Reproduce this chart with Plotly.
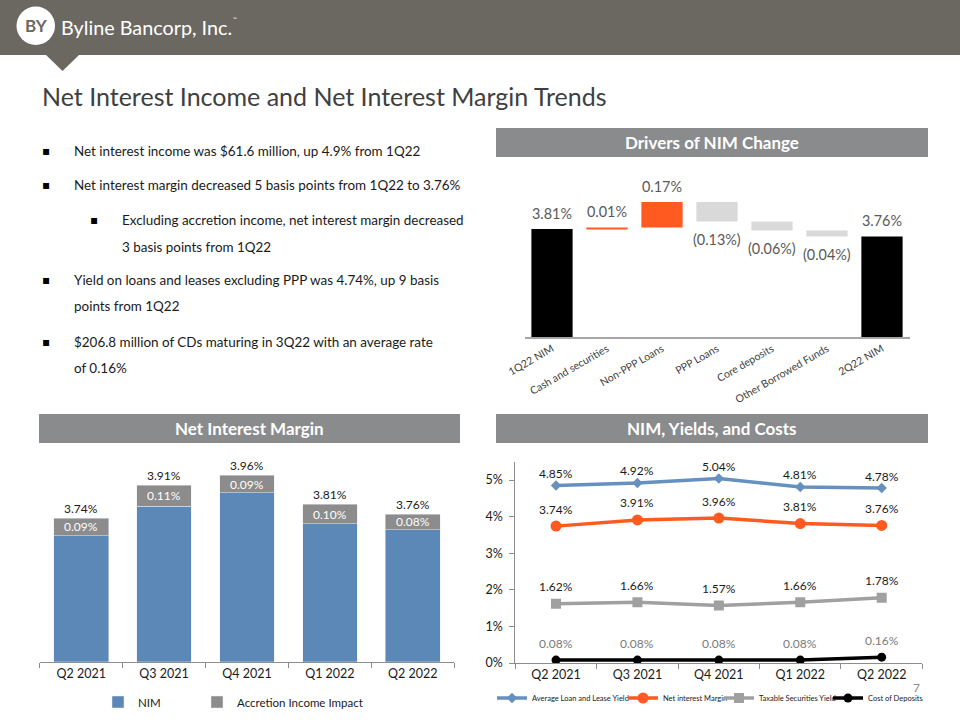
import plotly.graph_objects as go

W, H = 960, 720

# ---------------- data ----------------
wf_categories = ["1Q22 NIM", "Cash and securities", "Non-PPP Loans", "PPP Loans",
                 "Core deposits", "Other Borrowed Funds", "2Q22 NIM"]
wf_values = [3.81, 0.01, 0.17, -0.13, -0.06, -0.04, 3.76]
wf_measures = ["absolute", "relative", "relative", "relative", "relative", "relative", "total"]
wf_labels = ["3.81%", "0.01%", "0.17%", "(0.13%)", "(0.06%)", "(0.04%)", "3.76%"]

quarters = ["Q2 2021", "Q3 2021", "Q4 2021", "Q1 2022", "Q2 2022"]
nim_total = [3.74, 3.91, 3.96, 3.81, 3.76]
accretion = [0.09, 0.11, 0.09, 0.10, 0.08]
nim_ex_accretion = [round(t - a, 2) for t, a in zip(nim_total, accretion)]

loan_yield = [4.85, 4.92, 5.04, 4.81, 4.78]
net_interest_margin = [3.74, 3.91, 3.96, 3.81, 3.76]
securities_yield = [1.62, 1.66, 1.57, 1.66, 1.78]
cost_of_deposits = [0.08, 0.08, 0.08, 0.08, 0.16]

pct_tick_values = [0, 1, 2, 3, 4, 5]
pct_tick_labels = ["0%", "1%", "2%", "3%", "4%", "5%"]

bullets = [
    (0, "Net interest income was $61.6 million, up 4.9% from 1Q22", 151),
    (0, "Net interest margin decreased 5 basis points from 1Q22 to 3.76%", 185),
    (1, "Excluding accretion income, net interest margin decreased", 220),
    (2, "3 basis points from 1Q22", 246.5),
    (0, "Yield on loans and leases excluding PPP was 4.74%, up 9 basis", 280),
    (3, "points from 1Q22", 306.5),
    (0, "$206.8 million of CDs maturing in 3Q22 with an average rate", 341.5),
    (3, "of 0.16%", 368),
]

# ---------------- style ----------------
FONT = "Lato"
ORANGE = "#ff5a1f"
BLUE_BAR = "#5b88b6"
BLUE_LINE = "#6690bf"
GRAY_BAR = "#8c8c8c"
GRAY_LINE = "#a0a0a0"
HEADER = "#6b6862"
SECTION = "#8a8b8d"
AXIS = "#8c8c8c"


def px(x):
    return x / W


def py(y):
    return 1 - y / H


fig = go.Figure()

# ---------- waterfall ----------
fig.add_trace(go.Waterfall(
    x=wf_categories, y=wf_values, measure=wf_measures,
    xaxis="x", yaxis="y",
    increasing=dict(marker=dict(color=ORANGE)),
    decreasing=dict(marker=dict(color="#d9d9d9")),
    totals=dict(marker=dict(color="#000000")),
    connector=dict(visible=False),
    showlegend=False, hoverinfo="skip",
))

annotations = []
running = 0.0
for cat, v, m, lab in zip(wf_categories, wf_values, wf_measures, wf_labels):
    if m == "absolute":
        running = v
    elif m == "relative":
        running = running + v
    neg = (m == "relative" and v < 0)
    annotations.append(dict(x=cat, y=running, xref="x", yref="y", text=lab, showarrow=False,
                            yshift=-18.5 if neg else 15.5, yanchor="middle",
                            font=dict(family=FONT, size=14.4, color="#595959")))

# ---------- stacked bars ----------
fig.add_trace(go.Bar(x=quarters, y=nim_ex_accretion, name="NIM", marker_color=BLUE_BAR,
                     xaxis="x2", yaxis="y2", legend="legend", hoverinfo="skip"))
fig.add_trace(go.Bar(x=quarters, y=accretion, name="Accretion Income Impact", marker_color=GRAY_BAR,
                     xaxis="x2", yaxis="y2", legend="legend2", hoverinfo="skip"))
for q, t, a, n in zip(quarters, nim_total, accretion, nim_ex_accretion):
    annotations.append(dict(x=q, y=t, xref="x2", yref="y2", text=f"{t:.2f}%", showarrow=False,
                            yshift=10, yanchor="middle",
                            font=dict(family=FONT, size=12, color="#1a1a1a")))
    annotations.append(dict(x=q, y=n + a / 2, xref="x2", yref="y2", text=f"{a:.2f}%", showarrow=False,
                            yanchor="middle",
                            font=dict(family=FONT, size=12, color="#ffffff")))

# ---------- lines ----------
line_series = [
    ("Average Loan and Lease Yield", loan_yield, BLUE_LINE, "diamond", 8, 12, "#1a1a1a", "legend3"),
    ("Net interest Margin", net_interest_margin, ORANGE, "circle", 11, 17, "#1a1a1a", "legend4"),
    ("Taxable Securities Yield", securities_yield, GRAY_LINE, "square", 10, 17, "#1a1a1a", "legend5"),
    ("Cost of Deposits", cost_of_deposits, "#000000", "circle", 9, 17, "#7a7a7a", "legend6"),
]
for name, vals, color, sym, msize, shift, tcolor, leg in line_series:
    fig.add_trace(go.Scatter(x=quarters, y=vals, name=name, mode="lines+markers",
                             line=dict(color=color, width=3.5),
                             marker=dict(symbol=sym, size=msize, color=color),
                             xaxis="x3", yaxis="y3", legend=leg, hoverinfo="skip"))
    for q, v in zip(quarters, vals):
        annotations.append(dict(x=q, y=v, xref="x3", yref="y3", text=f"{v:.2f}%", showarrow=False,
                                yshift=shift, yanchor="middle",
                                font=dict(family=FONT, size=12, color=tcolor)))

# ---------- page texts ----------
annotations.append(dict(x=px(59), y=py(27), xref="paper", yref="paper", xanchor="left", yanchor="middle",
                        text="Byline Bancorp, Inc.", showarrow=False,
                        font=dict(family=FONT, size=19.8, color="#ffffff")))
annotations.append(dict(x=px(231), y=py(19), xref="paper", yref="paper", xanchor="left", yanchor="middle",
                        text="™", showarrow=False, font=dict(family=FONT, size=5, color="#ffffff")))
annotations.append(dict(x=px(36), y=py(26), xref="paper", yref="paper", xanchor="center", yanchor="middle",
                        text="<b>BY</b>", showarrow=False, font=dict(family=FONT, size=17, color=HEADER)))
annotations.append(dict(x=px(40), y=py(96), xref="paper", yref="paper", xanchor="left", yanchor="middle",
                        text="Net Interest Income and Net Interest Margin Trends", showarrow=False,
                        font=dict(family=FONT, size=25, color="#404040")))

for level, text, yy in bullets:
    tx = 120 if level in (1, 2) else 72
    annotations.append(dict(x=px(tx), y=py(yy), xref="paper", yref="paper", xanchor="left", yanchor="middle",
                            text=text, showarrow=False, font=dict(family=FONT, size=13.45, color="#1a1a1a")))
    if level in (0, 1):
        bx = 46 if level == 0 else 94
        annotations.append(dict(x=px(bx), y=py(yy), xref="paper", yref="paper", xanchor="center",
                                yanchor="middle", text="▪", showarrow=False,
                                font=dict(family="DejaVu Sans", size=12, color="#000000")))

sections = [
    ("Drivers of NIM Change", 496, 928, 128, 157),
    ("Net Interest Margin", 39, 460, 414, 443),
    ("NIM, Yields, and Costs", 496, 928, 414, 443),
]
shapes = [
    dict(type="rect", xref="paper", yref="paper", x0=0, x1=1, y0=py(55), y1=1,
         fillcolor=HEADER, line=dict(width=0), layer="below"),
    dict(type="path", xref="paper", yref="paper",
         path=f"M {px(46)},{py(55)} L {px(79)},{py(55)} L {px(62.5)},{py(71)} Z",
         fillcolor=HEADER, line=dict(width=0), layer="below"),
    dict(type="circle", xref="paper", yref="paper", x0=px(16.5), x1=px(55), y0=py(45), y1=py(6.5),
         fillcolor="#ffffff", line=dict(width=0), layer="below"),
]
for title, x0, x1, y0, y1 in sections:
    shapes.append(dict(type="rect", xref="paper", yref="paper", x0=px(x0), x1=px(x1), y0=py(y1), y1=py(y0),
                       fillcolor=SECTION, line=dict(width=0), layer="below"))
    annotations.append(dict(x=px((x0 + x1) / 2), y=py((y0 + y1) / 2), xref="paper", yref="paper",
                            xanchor="center", yanchor="middle", text=f"<b>{title}</b>", showarrow=False,
                            font=dict(family=FONT, size=17, color="#ffffff")))

annotations.append(dict(x=px(916), y=py(687), xref="paper", yref="paper", xanchor="center", yanchor="middle",
                        text="7", showarrow=False, font=dict(family=FONT, size=12, color="#8c8c8c")))


# ---------- legends ----------
def legend_at(x, y, size):
    return dict(orientation="h", x=px(x), y=py(y), xanchor="left", yanchor="middle",
                bgcolor="rgba(0,0,0,0)", font=dict(family=FONT, size=size, color="#1a1a1a"))


# ---------- layout ----------
fig.update_layout(
    width=W, height=H, margin=dict(l=0, r=0, t=0, b=0, autoexpand=False),
    paper_bgcolor="#ffffff", plot_bgcolor="rgba(0,0,0,0)",
    font=dict(family=FONT, color="#1a1a1a"),
    barmode="stack", bargap=0.34, waterfallgap=0.25,
    hovermode=False,
    shapes=shapes, annotations=annotations,
    xaxis=dict(domain=[px(524.5), px(909.5)], anchor="y", showline=True, linecolor="#a6a6a6",
               linewidth=1.5, ticks="", tickangle=-30, showgrid=False, zeroline=False,
               tickfont=dict(family=FONT, size=10.5, color="#404040")),
    yaxis=dict(domain=[py(337), py(170.5)], anchor="x", range=[3.09, 4.2], visible=False),
    xaxis2=dict(domain=[px(39.75), px(454.25)], anchor="y2", range=[-0.5, 4.5], showline=True,
                linecolor=AXIS, linewidth=1,
                ticks="outside", tickson="boundaries", ticklen=5, tickcolor=AXIS, showgrid=False,
                zeroline=False, tickfont=dict(family=FONT, size=12.5, color="#1a1a1a")),
    yaxis2=dict(domain=[py(661.7), py(455)], anchor="x2", range=[3.0, 4.065], visible=False),
    xaxis3=dict(domain=[px(515.3), px(922.4)], anchor="y3", range=[-0.5, 4.5], showline=True,
                linecolor=AXIS, linewidth=1,
                ticks="outside", tickson="boundaries", ticklen=5, tickcolor=AXIS, showgrid=False,
                zeroline=False, tickfont=dict(family=FONT, size=12.5, color="#1a1a1a")),
    yaxis3=dict(domain=[py(663), py(461.7)], anchor="x3", range=[0, 5.5], showline=True, linecolor=AXIS,
                linewidth=1, ticks="outside", ticklen=5, tickcolor=AXIS, tickmode="array",
                tickvals=pct_tick_values, ticktext=pct_tick_labels,
                showgrid=False, zeroline=False, ticklabelstandoff=4,
                tickfont=dict(family=FONT, size=12.5, color="#1a1a1a")),
    legend=legend_at(98, 702, 11.5),
    legend2=legend_at(197, 702, 11.5),
    legend3=legend_at(492, 698, 7.5),
    legend4=legend_at(623, 698, 7.5),
    legend5=legend_at(719, 698, 7.5),
    legend6=legend_at(828, 698, 7.5),
)

fig.write_html(
    "out.html",
    config={"displayModeBar": False},
    post_script="document.body.style.margin='0px';document.body.style.overflow='hidden';",
)
